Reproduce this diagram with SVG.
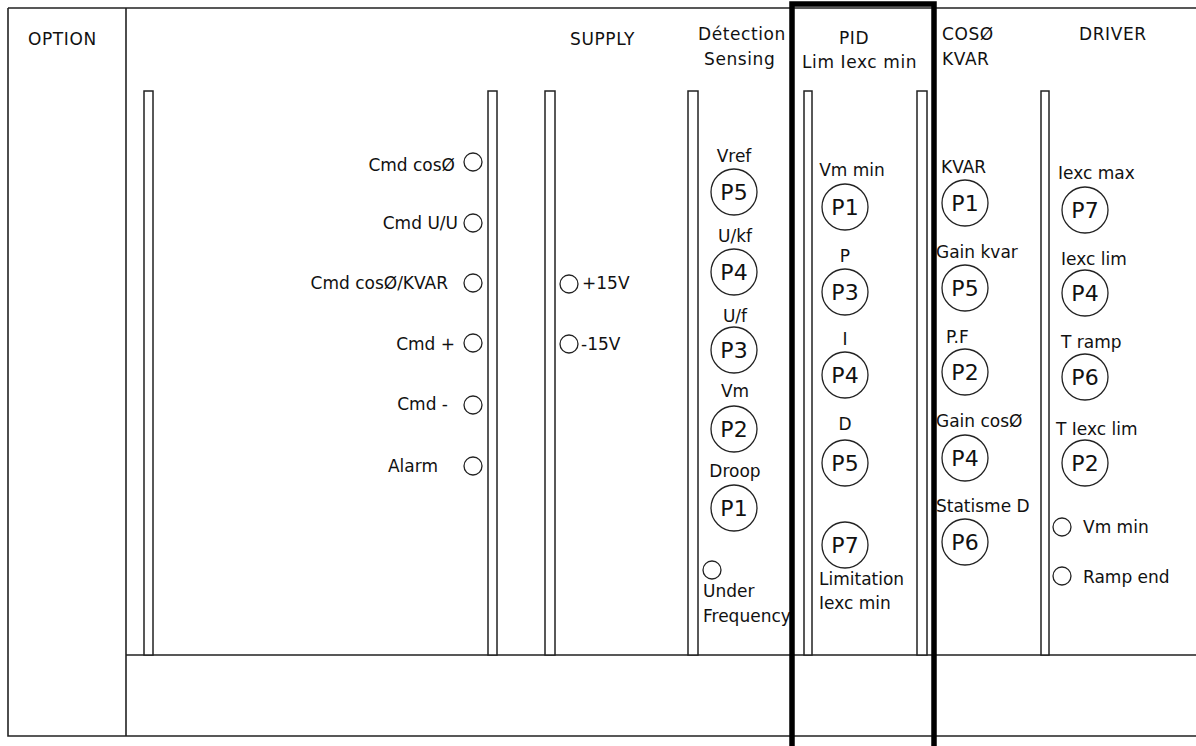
<svg xmlns="http://www.w3.org/2000/svg" width="1196" height="746" viewBox="0 0 1196 746">
<style>
.ln{fill:none;stroke:#222;stroke-width:1.6}
.rail{fill:#fff;stroke:#222;stroke-width:1.5}
.pot{fill:none;stroke:#222;stroke-width:1.3}
.led{fill:none;stroke:#222;stroke-width:1.3}
.t{font-family:"DejaVu Sans","Liberation Sans",sans-serif;font-size:17px;fill:#111}
.h{font-family:"DejaVu Sans","Liberation Sans",sans-serif;font-size:17px;fill:#111;letter-spacing:0.6px}
.p{font-family:"DejaVu Sans","Liberation Sans",sans-serif;font-size:22px;fill:#111;text-anchor:middle}
.m{text-anchor:middle}
.e{text-anchor:end}
.thick{fill:none;stroke:#000;stroke-width:5.5}
</style>
<rect width="1196" height="746" fill="#fff"/>
<g id="frame">
<path class="ln" d="M8,8 H1196 M8,8 V736 H1196 M126,8 V736 M126,655 H1196"/>
</g>
<g id="rails">
<rect class="rail" x="144" y="91" width="9" height="564"/>
<rect class="rail" x="488" y="91" width="9" height="564"/>
<rect class="rail" x="545" y="91" width="10" height="564"/>
<rect class="rail" x="688" y="91" width="10" height="564"/>
<rect class="rail" x="804" y="91" width="8" height="564"/>
<rect class="rail" x="917" y="91" width="10" height="564"/>
<rect class="rail" x="1041" y="91" width="8" height="564"/>
</g>
<g id="headers">
<text class="h" x="28" y="45">OPTION</text>
<text class="h" x="570" y="45">SUPPLY</text>
<text class="h" x="698" y="40">Détection</text>
<text class="h" x="704" y="65">Sensing</text>
<text class="h m" x="854" y="44">PID</text>
<text class="h" x="802" y="68">Lim  Iexc min</text>
<text class="h" x="942" y="40">COSØ</text>
<text class="h" x="942" y="65">KVAR</text>
<text class="h" x="1079" y="40">DRIVER</text>
</g>
<g id="option">
<text class="t e" x="455" y="171">Cmd cosØ</text><circle class="led" cx="473" cy="162" r="9"/>
<text class="t e" x="458" y="229">Cmd U/U</text><circle class="led" cx="473" cy="223" r="9"/>
<text class="t e" x="448" y="289">Cmd cosØ/KVAR</text><circle class="led" cx="473" cy="283" r="9"/>
<text class="t e" x="455" y="350">Cmd +</text><circle class="led" cx="473" cy="343" r="9"/>
<text class="t e" x="448" y="410">Cmd -</text><circle class="led" cx="473" cy="405" r="9"/>
<text class="t e" x="438" y="472">Alarm</text><circle class="led" cx="473" cy="466" r="9"/>
</g>
<g id="supply">
<circle class="led" cx="569" cy="284" r="9"/><text class="t" x="582" y="289">+15V</text>
<circle class="led" cx="569" cy="344" r="9"/><text class="t" x="581" y="350">-15V</text>
</g>
<g id="detection">
<text class="t m" x="734" y="162">Vref</text><circle class="pot" cx="734" cy="192" r="23"/><text class="p" x="734" y="200">P5</text>
<text class="t m" x="735" y="242">U/kf</text><circle class="pot" cx="734" cy="272" r="23"/><text class="p" x="734" y="280">P4</text>
<text class="t m" x="735" y="322">U/f</text><circle class="pot" cx="734" cy="350" r="23"/><text class="p" x="734" y="358">P3</text>
<text class="t m" x="735" y="397">Vm</text><circle class="pot" cx="734" cy="429" r="23"/><text class="p" x="734" y="437">P2</text>
<text class="t m" x="735" y="477">Droop</text><circle class="pot" cx="734" cy="508" r="23"/><text class="p" x="734" y="516">P1</text>
<circle class="led" cx="712" cy="570" r="9"/>
<text class="t" x="703" y="597">Under</text>
<text class="t" x="703" y="622">Frequency</text>
</g>
<g id="pid">
<text class="t m" x="852" y="176">Vm  min</text><circle class="pot" cx="845" cy="207" r="23"/><text class="p" x="845" y="215">P1</text>
<text class="t m" x="845" y="262">P</text><circle class="pot" cx="845" cy="292" r="23"/><text class="p" x="845" y="300">P3</text>
<text class="t m" x="845" y="345">I</text><circle class="pot" cx="845" cy="375" r="23"/><text class="p" x="845" y="383">P4</text>
<text class="t m" x="845" y="430">D</text><circle class="pot" cx="845" cy="463" r="23"/><text class="p" x="845" y="471">P5</text>
<circle class="pot" cx="845" cy="545" r="23"/><text class="p" x="845" y="553">P7</text>
<text class="t" x="819" y="585">Limitation</text>
<text class="t" x="819" y="609">Iexc min</text>
</g>
<g id="cosphi">
<text class="t" x="941" y="173">KVAR</text><circle class="pot" cx="965" cy="203" r="23"/><text class="p" x="965" y="211">P1</text>
<text class="t" x="936" y="258">Gain kvar</text><circle class="pot" cx="965" cy="288" r="23"/><text class="p" x="965" y="296">P5</text>
<text class="t" x="946" y="343">P.F</text><circle class="pot" cx="965" cy="372" r="23"/><text class="p" x="965" y="380">P2</text>
<text class="t" x="936" y="427">Gain cosØ</text><circle class="pot" cx="965" cy="458" r="23"/><text class="p" x="965" y="466">P4</text>
<text class="t" x="936" y="512">Statisme D</text><circle class="pot" cx="965" cy="542" r="23"/><text class="p" x="965" y="550">P6</text>
</g>
<g id="driver">
<text class="t" x="1058" y="179">Iexc max</text><circle class="pot" cx="1085" cy="210" r="23"/><text class="p" x="1085" y="218">P7</text>
<text class="t" x="1061" y="265">Iexc lim</text><circle class="pot" cx="1085" cy="293" r="23"/><text class="p" x="1085" y="301">P4</text>
<text class="t" x="1061" y="348">T ramp</text><circle class="pot" cx="1085" cy="377" r="23"/><text class="p" x="1085" y="385">P6</text>
<text class="t" x="1056" y="435">T Iexc lim</text><circle class="pot" cx="1085" cy="463" r="23"/><text class="p" x="1085" y="471">P2</text>
<circle class="led" cx="1062" cy="527" r="9"/><text class="t" x="1083" y="533">Vm  min</text>
<circle class="led" cx="1062" cy="576" r="9"/><text class="t" x="1083" y="583">Ramp end</text>
</g>
<g id="pid-highlight">
<rect class="thick" x="792" y="4" width="142" height="760"/>
</g>
</svg>
